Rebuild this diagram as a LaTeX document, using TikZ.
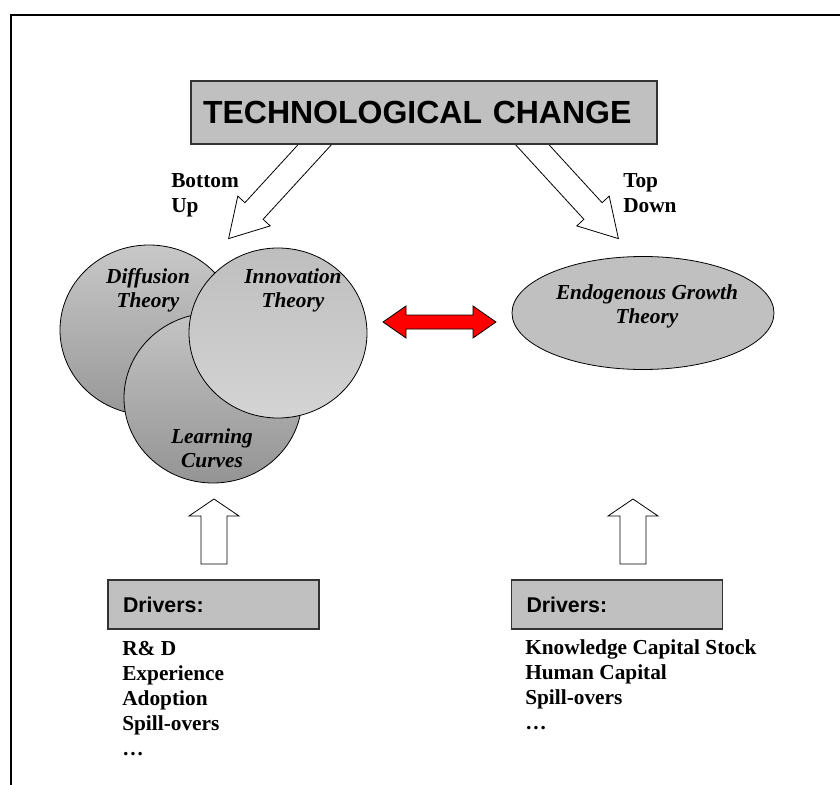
\documentclass[tikz,border=0pt]{standalone}
\usepackage{fontspec}
\setmainfont{Liberation Serif}
\newfontfamily\arial{Liberation Sans}
\usetikzlibrary{shapes.geometric}

\definecolor{boxgray}{HTML}{C0C0C0}
\definecolor{edgegray}{HTML}{333333}

\tikzset{
	headbox/.style={draw=edgegray, line width=1.1pt, fill=boxgray,
		minimum width=349.5pt, minimum height=47.25pt, inner xsep=9pt,
		text width=331.5pt, align=left,
		font={\arial\bfseries\fontsize{24}{28}\selectfont}},
	driverbox/.style={draw=edgegray, line width=0.9pt, fill=boxgray,
		minimum width=158.25pt, minimum height=36.75pt, inner xsep=11.25pt,
		text width=135.75pt, align=left,
		font={\arial\bfseries\fontsize{16}{19}\selectfont}},
	% Position jeweils auf der Grundlinie der letzten Zeile
	tag/.style={anchor=base west, inner sep=0pt, align=left,
		font={\bfseries\fontsize{16}{18.75}\selectfont}},
	theory/.style={anchor=base, inner sep=0pt, align=center,
		font={\bfseries\itshape\fontsize{16}{18}\selectfont}},
	bubble/.style={ellipse, draw, line width=0.6pt,
		minimum width=133.5pt, minimum height=127.5pt},
	blockarrow/.style={draw, line width=0.6pt, fill=white, line join=miter}
}

\begin{document}
\begin{tikzpicture}[x=0.75pt, y=-0.75pt]
	\useasboundingbox (0,0) rectangle (840,785);
	% Rahmen
	\draw[line width=1.9pt] (11,785) -- (11,15) -- (840,15);

	% Pfeile vom Kopf nach unten
	\draw[blockarrow] (322.6,117.9) -- (244.9,202.7) -- (237.8,196.1)
		-- (228.6,238.6) -- (270.2,225.9) -- (263.1,219.3) -- (340.8,134.5)
		-- cycle;
	\draw[blockarrow] (524.4,117.9) -- (602.1,202.7) -- (609.2,196.1)
		-- (618.4,238.6) -- (576.8,225.9) -- (583.9,219.3) -- (506.2,134.5)
		-- cycle;

	% Kopf
	\node[headbox] (tc) at (424,112.5) {TECHNOLOGICAL CHANGE};
	\node[tag] (bu) at (171,212) {Bottom\\Up};
	\node[tag] (td) at (623,212) {Top\\Down};

	% Bottom-up Theorien
	\node[bubble, top color={rgb,255:red,200;green,200;blue,200},
		bottom color={rgb,255:red,152;green,152;blue,152}] (diff) at (149,330) {};
	\node[bubble, top color={rgb,255:red,196;green,196;blue,196},
		bottom color={rgb,255:red,148;green,148;blue,148}] (learn) at (213,398) {};
	\node[bubble, top color={rgb,255:red,190;green,190;blue,190},
		bottom color={rgb,255:red,212;green,212;blue,212}] (innov) at (278,333) {};
	\node[theory] (difftxt) at (148,307) {Diffusion\\Theory};
	\node[theory] (innovtxt) at (293,307) {Innovation\\Theory};
	\node[theory] (learntxt) at (212,467) {Learning\\Curves};

	% Top-down Theorie
	\node[ellipse, draw, line width=0.6pt, fill=boxgray,
		minimum width=196.5pt, minimum height=84.75pt] (endo) at (643,313) {};
	\node[theory] (endotxt) at (647,323) {Endogenous Growth\\Theory};

	% Doppelpfeil
	\draw[fill=red, line width=0.6pt, line join=miter] (383,322) -- (406,306)
		-- (406,315) -- (473,315) -- (473,306) -- (496,322) -- (473,338)
		-- (473,329) -- (406,329) -- (406,338) -- cycle;

	% Treiber
	\foreach \x in {214,633}
		\draw[blockarrow] (\x,499) -- (\x+25,516) -- (\x+13,516) -- (\x+13,564)
			-- (\x-13,564) -- (\x-13,516) -- (\x-25,516) -- cycle;
	\node[driverbox] (drvl) at (213.5,604.5) {Drivers:};
	\node[driverbox] (drvr) at (617,604.5) {Drivers:};
	\node[tag] (listl) at (122,755) {R\& D\\Experience\\Adoption\\Spill-overs\\\dots};
	\node[tag] (listr) at (525,729) {Knowledge Capital Stock\\Human Capital\\Spill-overs\\\dots};
\end{tikzpicture}
\end{document}
